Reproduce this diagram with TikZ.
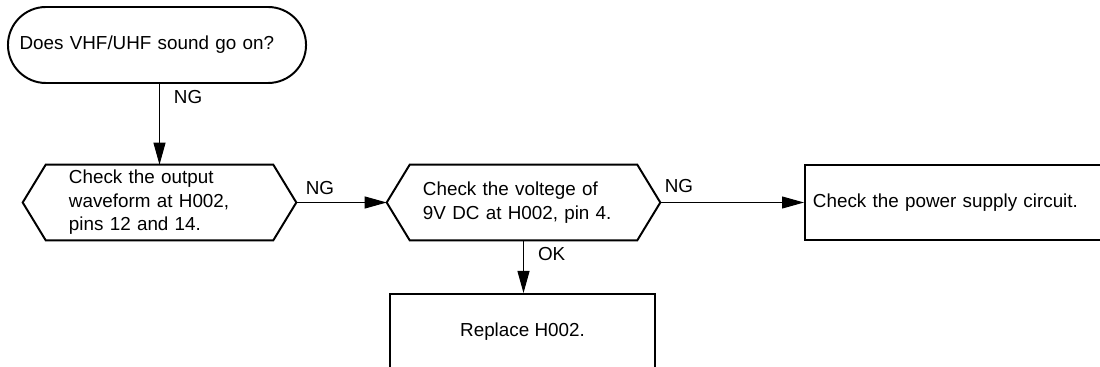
\documentclass[tikz,border=0pt]{standalone}
\usepackage{fontspec}
\setmainfont{Liberation Sans}
\usetikzlibrary{arrows.meta,positioning,calc}

\begin{document}
\begin{tikzpicture}[x=0.025cm,y=-0.025cm,>={Triangle[length=5.5mm,width=3mm]},
  every node/.style={font=\fontsize{13.4pt}{16.7pt}\selectfont},
  shapeline/.style={line width=1.4pt},
  flow/.style={->,line width=0.7pt},
  lbl/.style={inner sep=0pt},
  hexbox/.style={minimum width=68.25mm,minimum height=18.75mm,inner ysep=0pt,align=left}]
\useasboundingbox (0,0) rectangle (1100,367);
\clip (0,0) rectangle (1100,367);
% start question
\node[draw,shapeline,rounded corners=9.5mm,minimum width=74.5mm,minimum height=19mm,
  inner xsep=2.9mm,text width=68.7mm,align=left] (ask) at (157,45) {Does VHF/UHF sound go on?};
% checks
\node[hexbox,text width=45.25mm,inner xsep=11.5mm] (wave) at (159.5,202.5)
  {Check the output\\waveform at H002,\\pins 12 and 14.};
\node[hexbox,text width=50.25mm,inner xsep=9mm] (volt) at (523.5,202.5)
  {Check the voltege of\\9V DC at H002, pin 4.};
\foreach \n in {wave,volt}
  \draw[shapeline] (\n.west) -- ($(\n.north west)+(5.75mm,0)$) -- ($(\n.north east)+(-5.75mm,0)$)
    -- (\n.east) -- ($(\n.south east)+(-5.75mm,0)$) -- ($(\n.south west)+(5.75mm,0)$) -- cycle;
% results (cut by the page edge)
\node[draw,shapeline,anchor=west,minimum width=76.5mm,minimum height=18.75mm,
  inner xsep=2mm,text width=72.5mm,align=left] (power) at (804,202.5) {Check the power supply circuit.};
\node[draw,shapeline,minimum width=66.25mm,minimum height=19mm] (repl) at (522.5,332) {Replace H002.};
% connectors
\draw[flow] (ask.south -| wave.north) -- (wave.north) node[lbl,pos=0.16,anchor=west,xshift=3.5mm] {NG};
\draw[flow] (wave.east) -- (volt.west) node[lbl,at start,anchor=south west,xshift=2.25mm,yshift=1.75mm] {NG};
\draw[flow] (volt.east) -- (power.west) node[lbl,at start,anchor=south west,xshift=1mm,yshift=2.4mm] {NG};
\draw[flow] (volt.south) -- (volt.south |- repl.north) node[lbl,pos=0.26,anchor=west,xshift=3.5mm] {OK};
\end{tikzpicture}
\end{document}
